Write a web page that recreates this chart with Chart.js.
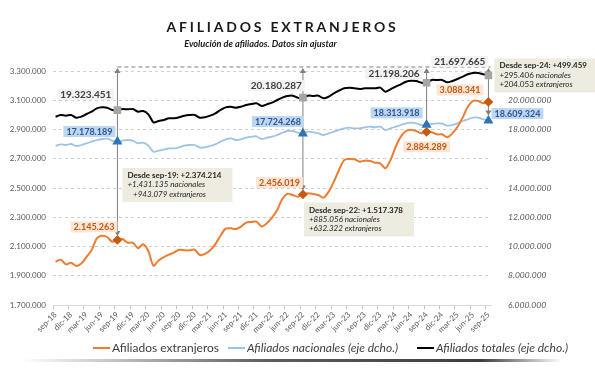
<!DOCTYPE html>
<html>
<head>
<meta charset="utf-8">
<script src="https://cdn.jsdelivr.net/npm/chart.js@4.4.1/dist/chart.umd.min.js"></script>
<style>
  body { margin: 0; background: #fff; }
  #wrap { position: relative; width: 595px; height: 371px; overflow: hidden; font-family: Lato, sans-serif; }
  #chart { position: absolute; left: 0; top: 0; }
  #title { position: absolute; top: 19px; left: -15px; width: 595px; text-align: center; font-weight: bold; font-size: 14px; letter-spacing: 2.8px; color: #1a1a1a; line-height: 16px; }
  #subtitle { position: absolute; top: 38px; left: -37px; width: 595px; text-align: center; font-weight: bold; font-style: italic; font-size: 9.2px; color: #1a1a1a; line-height: 12px; }
  .item { position: absolute; top: 340px; font-size: 12px; color: #404040; line-height: 16px; white-space: nowrap; }
  .item i { display: inline-block; width: 17px; height: 2px; vertical-align: middle; margin-right: 2px; margin-top: -2px; }
  .it { font-style: italic; }
  #shadow { position: absolute; left: 22px; width: 540px; top: 359px; height: 3px;
    background: linear-gradient(to right, rgba(0,0,0,0), rgba(40,40,40,0.75) 45%, rgba(40,40,40,0.9) 85%, rgba(0,0,0,0)); }
</style>
</head>
<body>
<div id="wrap">
  <canvas id="chart" width="595" height="371"></canvas>
  <div id="title">AFILIADOS EXTRANJEROS</div>
  <div id="subtitle">Evolución de afiliados. Datos sin ajustar</div>
  <span class="item" style="left:93px"><i style="background:#ED7D31"></i>Afiliados extranjeros</span>
  <span class="item it" style="left:228px"><i style="background:#9DC3E6"></i>Afiliados nacionales (eje dcho.)</span>
  <span class="item it" style="left:417px"><i style="background:#000"></i>Afiliados totales (eje dcho.)</span>
  <div id="shadow"></div>
</div>
<script>
const months = [
  'sep-18', 'oct-18', 'nov-18', 'dic-18',
  'ene-19', 'feb-19', 'mar-19', 'abr-19', 'may-19', 'jun-19', 'jul-19', 'ago-19', 'sep-19', 'oct-19', 'nov-19', 'dic-19',
  'ene-20', 'feb-20', 'mar-20', 'abr-20', 'may-20', 'jun-20', 'jul-20', 'ago-20', 'sep-20', 'oct-20', 'nov-20', 'dic-20',
  'ene-21', 'feb-21', 'mar-21', 'abr-21', 'may-21', 'jun-21', 'jul-21', 'ago-21', 'sep-21', 'oct-21', 'nov-21', 'dic-21',
  'ene-22', 'feb-22', 'mar-22', 'abr-22', 'may-22', 'jun-22', 'jul-22', 'ago-22', 'sep-22', 'oct-22', 'nov-22', 'dic-22',
  'ene-23', 'feb-23', 'mar-23', 'abr-23', 'may-23', 'jun-23', 'jul-23', 'ago-23', 'sep-23', 'oct-23', 'nov-23', 'dic-23',
  'ene-24', 'feb-24', 'mar-24', 'abr-24', 'may-24', 'jun-24', 'jul-24', 'ago-24', 'sep-24', 'oct-24', 'nov-24', 'dic-24',
  'ene-25', 'feb-25', 'mar-25', 'abr-25', 'may-25', 'jun-25', 'jul-25', 'ago-25', 'sep-25',
];

// left axis
const extranjeros = [
  1996000, 2010000, 1978000, 1989000, 1967000, 1983000, 2028000, 2076000, 2156000, 2174000, 2165000, 2133000,
  2145263, 2151000, 2126000, 2126000, 2088000, 2115000, 2069000, 1969000, 2005000, 2028000, 2044000, 2060000,
  2078000, 2074000, 2074000, 2078000, 2042000, 2049000, 2074000, 2115000, 2174000, 2222000, 2224000, 2220000,
  2236000, 2263000, 2268000, 2270000, 2236000, 2259000, 2297000, 2350000, 2425000, 2461000, 2452000, 2441000,
  2456019, 2464000, 2459000, 2452000, 2434000, 2475000, 2543000, 2623000, 2691000, 2698000, 2696000, 2680000,
  2687000, 2685000, 2673000, 2669000, 2635000, 2691000, 2782000, 2851000, 2890000, 2897000, 2890000, 2874000,
  2884289, 2881000, 2867000, 2867000, 2847000, 2874000, 2919000, 2981000, 3056000, 3095000, 3095000, 3079000,
  3088341,
];

// right axis
const nacionales = [
  16872000, 16986000, 16940000, 17009000, 16872000, 16940000, 17054000, 17168000, 17282000, 17350000, 17373000, 17236000,
  17178189, 17236000, 17282000, 17236000, 17054000, 17100000, 16895000, 16485000, 16553000, 16621000, 16713000, 16713000,
  16781000, 16895000, 16940000, 16940000, 16758000, 16781000, 16872000, 16986000, 17168000, 17327000, 17396000, 17282000,
  17327000, 17441000, 17510000, 17533000, 17350000, 17441000, 17510000, 17624000, 17783000, 17897000, 17897000, 17783000,
  17724268, 17851000, 17806000, 17737000, 17624000, 17737000, 17851000, 17966000, 18080000, 18125000, 18080000, 18080000,
  18148000, 18194000, 18148000, 18194000, 17966000, 18080000, 18194000, 18308000, 18422000, 18467000, 18422000, 18308000,
  18313918, 18376000, 18422000, 18399000, 18262000, 18308000, 18422000, 18581000, 18695000, 18809000, 18809000, 18695000,
  18609324,
];

const totales = [
  18877000, 18991000, 18945000, 18991000, 18809000, 18877000, 19060000, 19219000, 19447000, 19516000, 19493000, 19333000,
  19323451, 19402000, 19379000, 19402000, 19219000, 19265000, 19037000, 18490000, 18581000, 18649000, 18763000, 18763000,
  18832000, 18945000, 18991000, 18991000, 18809000, 18832000, 18945000, 19105000, 19333000, 19516000, 19561000, 19493000,
  19561000, 19675000, 19744000, 19789000, 19607000, 19721000, 19835000, 20017000, 20177000, 20291000, 20314000, 20177000,
  20180287, 20314000, 20291000, 20314000, 20131000, 20245000, 20474000, 20656000, 20816000, 20861000, 20816000, 20769000,
  20816000, 20816000, 20816000, 20861000, 20587000, 20746000, 20929000, 21090000, 21268000, 21337000, 21316000, 21200000,
  21198206, 21385000, 21385000, 21385000, 21225000, 21316000, 21453000, 21610000, 21774000, 21863000, 21863000, 21774000,
  21697665,
];

const leftMin = 1700000, leftMax = 3300000, leftStep = 200000;
const rightMin = 6000000, rightMax = 22000000, rightStep = 2000000;

// sep-19, sep-22, sep-24, sep-25
const markIdx = [12, 48, 72, 84];

const notes = [
  { idx: 12, lines: [[['Desde sep-19: +2.374.214', 'bold']], [['+1.431.135 nacionales', 'italic']], [['   +943.079 extranjeros', 'italic']]] },
  { idx: 48, lines: [[['Desde sep-22: +1.517.378', 'bold']], [['+885.056 nacionales', 'italic']], [['+632.322 extranjeros', 'italic']]] },
  { idx: 84, lines: [[['Desde sep-24: +499.459', 'bold']], [['+295.406 ', 'normal'], ['nacionales', 'italic']], [['+204.053 ', 'normal'], ['extranjeros', 'italic']]] },
];

function fmt(n) {
  return Math.round(n).toString().replace(/\B(?=(\d{3})+(?!\d))/g, '.');
}

Chart.defaults.font.family = 'Lato, sans-serif';

function arrowHead(ctx, x, y, dir) {
  ctx.beginPath();
  ctx.moveTo(x, y);
  ctx.lineTo(x - 3, y - 5 * dir);
  ctx.lineTo(x + 3, y - 5 * dir);
  ctx.closePath();
  ctx.fill();
}

function tag(ctx, text, x, y, align, font, bg, fg) {
  ctx.font = font;
  const w = ctx.measureText(text).width + 6;
  const h = 11;
  let left = x - w / 2;
  if (align === 'right') left = x - w;
  if (align === 'left') left = x;
  ctx.fillStyle = bg;
  ctx.fillRect(left, y - h / 2, w, h);
  ctx.fillStyle = fg;
  ctx.textAlign = 'left';
  ctx.textBaseline = 'middle';
  ctx.fillText(text, left + 3, y + 0.5);
}

const noteFont = (st) => (st === 'bold' ? 'bold ' : st === 'italic' ? 'italic ' : '') + '8px Lato';

const annotations = {
  id: 'annotations',
  beforeDatasetsDraw(chart) {
    const { ctx, chartArea, scales } = chart;
    const topY = chartArea.top - 4;
    ctx.save();
    ctx.strokeStyle = '#7f7f7f';
    ctx.fillStyle = '#7f7f7f';
    ctx.lineWidth = 1.2;
    ctx.setLineDash([4, 3]);
    ctx.beginPath();
    ctx.moveTo(scales.x.getPixelForValue(markIdx[0]), topY);
    ctx.lineTo(scales.x.getPixelForValue(markIdx[3]) + 2, topY);
    ctx.stroke();
    ctx.setLineDash([]);
    ctx.lineWidth = 1;
    markIdx.forEach((i, k) => {
      const px = scales.x.getPixelForValue(i);
      const end = k === 3
        ? scales.y2.getPixelForValue(nacionales[i]) - 5
        : scales.y.getPixelForValue(extranjeros[i]) - 4;
      ctx.beginPath();
      ctx.moveTo(px, topY + 3);
      ctx.lineTo(px, end - 3);
      ctx.stroke();
      arrowHead(ctx, px, topY + 1, -1);
      arrowHead(ctx, px, end, 1);
    });
    ctx.restore();
  },
  afterDatasetsDraw(chart) {
    const { ctx, scales } = chart;
    const series = {
      tot: { data: totales, scale: scales.y2, font: 'bold 10px Lato', bg: '#f2f2f2', fg: '#404040' },
      nac: { data: nacionales, scale: scales.y2, font: 'bold 9px Lato', bg: '#bdd7ee', fg: '#2f5597' },
      ext: { data: extranjeros, scale: scales.y, font: 'bold 9px Lato', bg: '#fbe5d6', fg: '#c55a11' },
    };
    const valueTags = [
      ['tot', 12, 'right', -3, -16], ['nac', 12, 'right', -2, -10], ['ext', 12, 'right', 0, -13],
      ['tot', 48, 'right', 2, -12], ['nac', 48, 'right', 1, -12], ['ext', 48, 'right', 0, -12],
      ['tot', 72, 'right', -4, -9], ['nac', 72, 'right', -4, -12], ['ext', 72, 'center', 0, 15],
      ['tot', 84, 'right', 0, -14], ['nac', 84, 'left', 3, -7], ['ext', 84, 'right', -5, -12],
    ];
    ctx.save();
    valueTags.forEach(([key, i, align, dx, dy]) => {
      const s = series[key];
      const px = scales.x.getPixelForValue(i);
      const py = s.scale.getPixelForValue(s.data[i]);
      tag(ctx, fmt(s.data[i]), px + dx, py + dy, align, s.font, s.bg, s.fg);
    });
    ctx.restore();
  },
  afterDraw(chart) {
    const { ctx, scales } = chart;
    const spots = {
      12: (px) => [px + 5, scales.y.getPixelForValue(extranjeros[12]) - 72],
      48: (px) => [px + 1, scales.y.getPixelForValue(extranjeros[48]) + 8],
      84: (px) => [px + 6, scales.y2.getPixelForValue(totales[84]) - 17],
    };
    ctx.save();
    notes.forEach((note) => {
      const px = scales.x.getPixelForValue(note.idx);
      const [left, top] = spots[note.idx](px);
      let w = 0;
      note.lines.forEach((line) => {
        let lw = 0;
        line.forEach(([t, st]) => {
          ctx.font = noteFont(st);
          lw += ctx.measureText(t).width;
        });
        w = Math.max(w, lw);
      });
      ctx.fillStyle = '#eeece1';
      ctx.fillRect(left, top, w + 16, 34);
      ctx.textBaseline = 'middle';
      ctx.textAlign = 'left';
      ctx.fillStyle = '#262626';
      note.lines.forEach((line, r) => {
        let x = left + 5;
        line.forEach(([t, st]) => {
          ctx.font = noteFont(st);
          ctx.fillText(t, x, top + 7.5 + r * 9.4);
          x += ctx.measureText(t).width;
        });
      });
    });
    ctx.restore();
  },
};

const isMark = (c) => markIdx.includes(c.dataIndex);

new Chart(document.getElementById('chart'), {
  type: 'line',
  data: {
    labels: months,
    datasets: [
      {
        label: 'Afiliados extranjeros',
        data: extranjeros,
        yAxisID: 'y',
        borderColor: '#ED7D31',
        borderWidth: 2,
        tension: 0.3,
        pointStyle: 'rectRot',
        pointRadius: (c) => (isMark(c) ? 3.5 : 0),
        pointBackgroundColor: '#c55a11',
        pointBorderColor: '#c55a11',
      },
      {
        label: 'Afiliados nacionales (eje dcho.)',
        data: nacionales,
        yAxisID: 'y2',
        borderColor: '#9DC3E6',
        borderWidth: 1.8,
        tension: 0.3,
        pointStyle: 'triangle',
        pointRadius: (c) => (isMark(c) ? 4 : 0),
        pointBackgroundColor: '#2e75b6',
        pointBorderColor: '#2e75b6',
      },
      {
        label: 'Afiliados totales (eje dcho.)',
        data: totales,
        yAxisID: 'y2',
        borderColor: '#000000',
        borderWidth: 2,
        tension: 0.3,
        pointStyle: 'rect',
        pointRadius: (c) => (isMark(c) ? 4 : 0),
        pointBackgroundColor: '#a6a6a6',
        pointBorderColor: '#a6a6a6',
      },
    ],
  },
  options: {
    responsive: false,
    animation: false,
    layout: { padding: { top: 71, bottom: 30, left: 0, right: 0 } },
    plugins: {
      legend: { display: false },
      tooltip: { enabled: false },
    },
    scales: {
      x: {
        offset: true,
        afterFit: (s) => { s.height = 36; },
        grid: {
          offset: true,
          drawOnChartArea: false,
          tickLength: 4,
          color: (c) => (c.index % 3 === 0 ? '#bfbfbf' : 'rgba(0,0,0,0)'),
        },
        border: { color: '#d9d9d9' },
        ticks: {
          autoSkip: false,
          maxRotation: 45,
          minRotation: 45,
          padding: 1,
          color: '#595959',
          font: { size: 8 },
          callback: (v, i) => (i % 3 === 0 ? months[i] : ''),
        },
      },
      y: {
        position: 'left',
        min: leftMin,
        max: leftMax,
        afterFit: (s) => { s.width = 53; },
        grid: { color: '#d0d0d0', drawTicks: false },
        border: { display: false, dash: [3, 3] },
        ticks: {
          stepSize: leftStep,
          padding: 7,
          color: '#595959',
          font: { size: 8 },
          callback: (v) => fmt(v),
        },
      },
      y2: {
        position: 'right',
        min: rightMin,
        max: rightMax,
        afterFit: (s) => { s.width = 104; },
        grid: { display: false },
        border: { display: false },
        ticks: {
          stepSize: rightStep,
          padding: 9,
          color: '#595959',
          font: { size: 8.5, style: 'italic' },
          callback: (v) => fmt(v),
        },
      },
    },
  },
  plugins: [annotations],
});
</script>
</body>
</html>
